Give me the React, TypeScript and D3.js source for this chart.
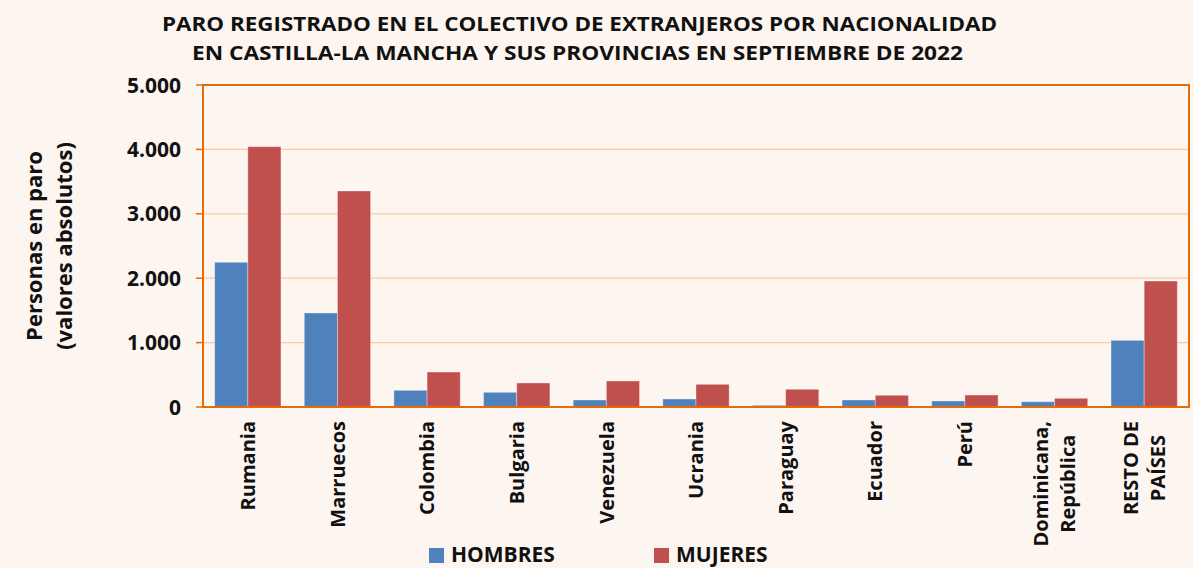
import React from 'react';
import * as d3 from 'd3';

// Chart data
const COUNTRIES = [
  'Rumania', 'Marruecos', 'Colombia', 'Bulgaria', 'Venezuela', 'Ucrania',
  'Paraguay', 'Ecuador', 'Perú', 'Dominicana, República', 'RESTO DE PAÍSES',
];
const COUNTRY_LINES = [
  ['Rumania'], ['Marruecos'], ['Colombia'], ['Bulgaria'], ['Venezuela'], ['Ucrania'],
  ['Paraguay'], ['Ecuador'], ['Perú'], ['Dominicana,', 'República'], ['RESTO DE', 'PAÍSES'],
];
const HOMBRES = [2247, 1460, 259, 228, 109, 124, 26, 109, 93, 82, 1035];
const MUJERES = [4042, 3354, 543, 373, 404, 352, 275, 182, 186, 135, 1956];
const SERIES = ['HOMBRES', 'MUJERES'];
const Y_TICKS = [0, 1000, 2000, 3000, 4000, 5000];

const W = 1193;
const H = 568;
const margin = { top: 85, right: 4, bottom: 161, left: 203 };
const FONT = '"Open Sans", sans-serif';
const COLORS = ['#4F81BD', '#C0504D'];
const ORANGE = '#E46C0A';
const XL_SIZE = 20;

const fmt = (v: number) => d3.format(',')(v).replace(/,/g, '.');

// measure text width so multi-line labels can be centred like the original
let ctx: CanvasRenderingContext2D | null = null;
const textWidth = (s: string, size: number) => {
  if (!ctx) ctx = document.createElement('canvas').getContext('2d');
  if (!ctx) return s.length * size * 0.6;
  ctx.font = `bold ${size}px "Open Sans"`;
  return ctx.measureText(s).width;
};

export default function App() {
  const x = d3.scaleBand<string>()
    .domain(COUNTRIES)
    .range([margin.left, W - margin.right])
    .paddingInner(0.26)
    .paddingOuter(0.13);
  const inner = d3.scaleBand<string>()
    .domain(SERIES)
    .range([0, x.bandwidth()]);
  const y = d3.scaleLinear()
    .domain([0, 5000])
    .range([H - margin.bottom, margin.top]);

  const values = [HOMBRES, MUJERES];
  const labelTop = y(0) + 14;

  return (
    <svg width={W} height={H} style={{ position: 'absolute', left: 0, top: 0, background: '#FDF5F0' }}
      fontFamily={FONT}>
      <rect x={0} y={0} width={W} height={H} fill="#FDF5F0" />

      {/* title */}
      <text x={579.5} y={31} textAnchor="middle" fontSize={19.5} fontWeight="bold" fill="#111"
        textLength={835} lengthAdjust="spacingAndGlyphs">
        PARO REGISTRADO EN EL COLECTIVO DE EXTRANJEROS POR NACIONALIDAD
      </text>
      <text x={577.5} y={60} textAnchor="middle" fontSize={19.5} fontWeight="bold" fill="#111"
        textLength={771} lengthAdjust="spacingAndGlyphs">
        EN CASTILLA-LA MANCHA Y SUS PROVINCIAS EN SEPTIEMBRE DE 2022
      </text>

      {/* gridlines */}
      {Y_TICKS.filter(t => t > 0 && t < 5000).map(t => (
        <line key={t} x1={margin.left} x2={W - margin.right} y1={y(t)} y2={y(t)}
          stroke="#F9CBA4" strokeWidth={1.2} />
      ))}

      {/* bars */}
      {COUNTRIES.map((c, i) => (
        <g key={c} transform={`translate(${x(c)},0)`}>
          {SERIES.map((s, j) => (
            <rect key={s} x={inner(s)} y={y(values[j][i])} width={inner.bandwidth()}
              height={y(0) - y(values[j][i])} fill={COLORS[j]}
              stroke="#fff" strokeOpacity={0.35} strokeWidth={1} />
          ))}
        </g>
      ))}

      {/* plot border */}
      <rect x={margin.left} y={margin.top} width={W - margin.right - margin.left}
        height={y(0) - margin.top} fill="none" stroke={ORANGE} strokeWidth={2} />

      {/* y axis ticks and labels */}
      {Y_TICKS.map(t => (
        <g key={t}>
          <line x1={margin.left - 7} x2={margin.left} y1={y(t)} y2={y(t)} stroke={ORANGE} strokeWidth={1.5} />
          <text x={181} y={y(t)} dy="0.36em" textAnchor="end" fontSize={21} fontWeight="bold" fill="#111">
            {fmt(t)}
          </text>
        </g>
      ))}

      {/* y axis title */}
      <g transform="translate(42,246) rotate(-90)">
        <text x={0} y={0} textAnchor="middle" fontSize={22} fontWeight="bold" fill="#111">Personas en paro</text>
        <text x={0} y={30} textAnchor="middle" fontSize={22} fontWeight="bold" fill="#111">(valores absolutos)</text>
      </g>

      {/* x labels */}
      {COUNTRIES.map((c, i) => {
        const lines = COUNTRY_LINES[i];
        const cx = (x(c) as number) + x.bandwidth() / 2;
        const longest = d3.max(lines, l => textWidth(l, XL_SIZE)) as number;
        const single = lines.length === 1;
        return (
          <g key={c} transform={`translate(${cx},${labelTop}) rotate(-90)`}>
            {lines.map((l, k) => (
              <text key={l} x={single ? 0 : -longest / 2} y={(k - (lines.length - 1) / 2) * 27}
                dy="0.36em" textAnchor={single ? 'end' : 'middle'}
                fontSize={XL_SIZE} fontWeight="bold" fill="#111">{l}</text>
            ))}
          </g>
        );
      })}

      {/* legend */}
      {SERIES.map((s, j) => {
        const lx = j === 0 ? 429 : 654;
        return (
          <g key={s}>
            <rect x={lx} y={548} width={15} height={15} fill={COLORS[j]} />
            <text x={lx + 22} y={562} fontSize={21} fontWeight="bold" fill="#111">{s}</text>
          </g>
        );
      })}
    </svg>
  );
}
